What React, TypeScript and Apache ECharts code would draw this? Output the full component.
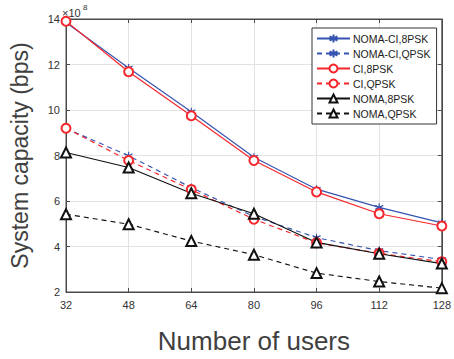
import React, { useEffect, useRef } from "react";
import * as echarts from "echarts";

const users = [32, 48, 64, 80, 96, 112, 128];
const nomaCi8psk = [13.85, 11.85, 9.92, 7.92, 6.52, 5.72, 5.04];
const nomaCiQpsk = [9.19, 7.99, 6.59, 5.32, 4.39, 3.82, 3.43];
const ci8psk = [13.9, 11.68, 9.75, 7.78, 6.4, 5.44, 4.9];
const ciQpsk = [9.2, 7.78, 6.5, 5.2, 4.16, 3.7, 3.33];
const noma8psk = [8.13, 7.47, 6.34, 5.44, 4.18, 3.68, 3.25];
const nomaQpsk = [5.42, 4.98, 4.24, 3.64, 2.83, 2.46, 2.17];

const seriesNames = [
  "NOMA-CI,8PSK",
  "NOMA-CI,QPSK",
  "CI,8PSK",
  "CI,QPSK",
  "NOMA,8PSK",
  "NOMA,QPSK",
];

const BLUE = "#3553b0";
const RED = "#f5262b";
const BLACK = "#111111";
const FONT = "Liberation Sans, Arial, sans-serif";
const ASTERISK = "path://M5,0 L5,10 M0.67,2.5 L9.33,7.5 M0.67,7.5 L9.33,2.5";

function mk(name: string, vals: number[], color: string, dashed: boolean, symbol: string, size: number) {
  return {
    name,
    type: "line",
    data: users.map((u, i) => [u, vals[i]]),
    symbol,
    symbolSize: size,
    showAllSymbol: true,
    lineStyle: { color, width: 1.15, type: dashed ? [5, 4] : "solid" },
    itemStyle: { color, borderColor: color, borderWidth: 1.15 },
    emphasis: { disabled: true },
  };
}

export default function App() {
  const ref = useRef<HTMLDivElement>(null);
  useEffect(() => {
    const chart = echarts.init(ref.current!, null, { renderer: "svg" });
    const axisColor = "#4a4a4a";
    chart.setOption({
      animation: false,
      textStyle: { fontFamily: FONT },
      grid: { left: 64, right: 11, top: 19, bottom: 55, show: true, borderColor: axisColor, borderWidth: 1, backgroundColor: "#fff" },
      legend: {
        orient: "vertical",
        left: 312,
        top: 28,
        width: 122,
        padding: [5, 6, 5, 4],
        itemGap: 4,
        itemWidth: 33,
        itemHeight: 10,
        backgroundColor: "#fff",
        borderColor: "#333",
        borderWidth: 1,
        textStyle: { fontSize: 10.5, color: "#222", fontFamily: FONT, padding: [0, 0, 0, -2] },
        data: seriesNames,
      },
      xAxis: [
        {
          type: "value",
          min: 32,
          max: 128,
          interval: 16,
          name: "Number of users",
          nameLocation: "middle",
          nameGap: 36,
          nameTextStyle: { fontSize: 26, color: "#404040", fontFamily: FONT },
          axisLine: { lineStyle: { color: axisColor } },
          axisTick: { inside: true, length: 4, lineStyle: { color: axisColor } },
          axisLabel: { fontSize: 11, color: "#333", margin: 7 },
          splitLine: { show: true, lineStyle: { color: "#e2e2e2" } },
        },
        {
          type: "value",
          position: "top",
          min: 32,
          max: 128,
          interval: 16,
          axisLine: { show: true, lineStyle: { color: axisColor } },
          axisTick: { show: true, inside: true, length: 4, lineStyle: { color: axisColor } },
          axisLabel: { show: false },
          splitLine: { show: false },
        },
      ],
      yAxis: [
        {
          type: "value",
          min: 2,
          max: 14,
          interval: 2,
          name: "System capacity (bps)",
          nameLocation: "middle",
          nameGap: 35,
          nameTextStyle: { fontSize: 23, color: "#404040", fontFamily: FONT },
          axisLine: { show: true, lineStyle: { color: axisColor } },
          axisTick: { show: true, inside: true, length: 4, lineStyle: { color: axisColor } },
          axisLabel: { fontSize: 11, color: "#333", margin: 6 },
          splitLine: { show: true, lineStyle: { color: "#e2e2e2" } },
        },
        {
          type: "value",
          position: "right",
          min: 2,
          max: 14,
          interval: 2,
          axisLine: { show: true, lineStyle: { color: axisColor } },
          axisTick: { show: true, inside: true, length: 4, lineStyle: { color: axisColor } },
          axisLabel: { show: false },
          splitLine: { show: false },
        },
      ],
      graphic: [
        {
          type: "text",
          x: 62,
          y: 7,
          style: { text: "×10", fontSize: 11, fill: "#333", fontFamily: FONT },
        },
        {
          type: "text",
          x: 83,
          y: 3,
          style: { text: "8", fontSize: 8, fill: "#333", fontFamily: FONT },
        },
      ],
      series: [
        mk(seriesNames[0], nomaCi8psk, BLUE, false, ASTERISK, 8),
        mk(seriesNames[1], nomaCiQpsk, BLUE, true, ASTERISK, 8),
        mk(seriesNames[2], ci8psk, RED, false, "emptyCircle", 9),
        mk(seriesNames[3], ciQpsk, RED, true, "emptyCircle", 9),
        mk(seriesNames[4], noma8psk, BLACK, false, "emptyTriangle", 10),
        mk(seriesNames[5], nomaQpsk, BLACK, true, "emptyTriangle", 10),
      ],
    });
    return () => chart.dispose();
  }, []);
  return <div ref={ref} style={{ position: "absolute", left: 0, top: 0, width: 454, height: 359 }} />;
}
